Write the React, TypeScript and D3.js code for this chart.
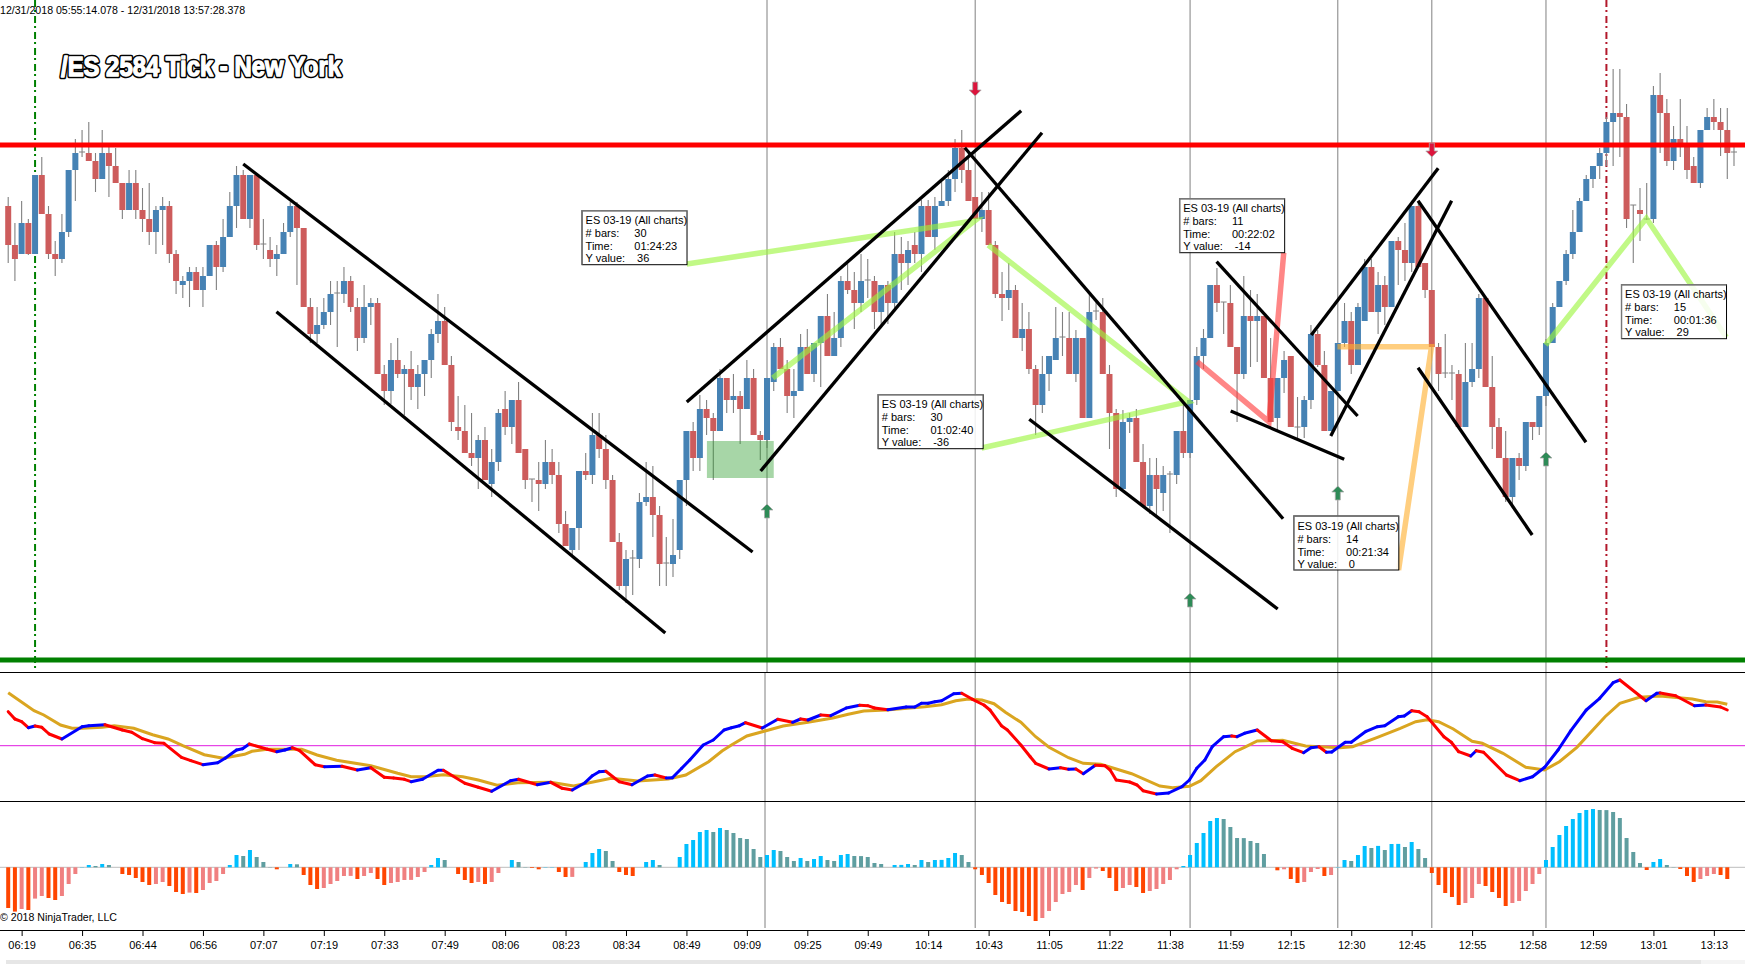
import React, { useEffect, useRef } from 'react';
import * as d3 from 'd3';

const WIDTH = 1745;
const HEIGHT = 964;

// price levels below are in chart units above the green support line
const opens = [454,415,406,437,406,485,446,406,401,428,490,508,507,499,481,507,494,477,450,477,450,441,428,450,454,406,375,379,388,370,384,415,393,423,454,485,441,485,416,410,401,406,428,454,432,353,326,335,348,367,366,379,353,322,353,357,286,269,300,286,291,273,286,300,326,339,295,233,229,207,202,220,176,198,251,233,260,211,181,180,176,198,185,136,110,132,189,185,225,211,180,118,74,102,101,158,163,145,97,96,110,180,229,202,251,242,229,282,260,264,251,282,225,220,278,313,291,264,269,313,286,317,344,304,322,379,370,357,380,379,348,375,357,406,397,415,406,454,423,454,459,481,512,490,463,441,450,415,366,362,370,322,331,291,255,286,300,323,322,286,322,242,349,348,286,247,171,238,242,198,154,185,167,186,185,229,207,260,304,322,375,358,357,313,286,344,339,344,282,242,282,304,233,233,260,326,295,229,269,317,339,295,339,393,348,375,353,419,410,397,454,397,370,313,287,287,286,233,278,291,362,273,233,202,163,202,194,238,233,264,317,353,379,406,428,459,481,494,507,538,547,543,455,450,441,441,565,547,499,521,516,494,477,530,543,538,530,508];
const closes = [415,401,437,406,485,446,406,401,428,490,507,508,499,481,507,494,477,450,477,450,441,428,450,454,406,379,379,388,370,384,415,393,423,454,485,441,485,415,416,401,406,428,454,432,353,326,335,348,366,367,379,353,322,353,357,286,269,300,286,291,273,286,300,326,339,295,238,229,207,202,220,180,198,247,233,260,207,180,181,176,198,185,136,114,132,189,185,225,211,180,118,74,101,102,158,163,145,96,97,105,180,229,202,251,242,229,282,260,264,251,282,225,220,282,313,291,264,269,313,286,317,344,304,322,379,370,357,379,380,348,375,357,406,397,410,406,454,423,454,459,481,512,490,459,441,450,415,366,362,370,322,331,291,255,286,304,322,323,286,322,242,348,349,286,247,171,238,242,198,154,185,171,185,186,229,207,260,304,322,375,357,358,313,286,344,339,344,282,238,282,300,233,233,260,326,295,229,269,317,339,295,353,393,348,375,353,419,410,397,454,393,370,313,286,287,287,233,278,291,362,273,233,202,163,202,194,238,233,264,317,353,379,406,428,459,481,494,507,538,547,543,441,455,446,441,565,547,499,521,516,490,477,530,543,538,530,507,508];
const highs = [463,437,459,441,485,503,454,419,446,490,521,530,538,507,530,516,512,477,490,490,472,477,454,463,459,410,384,393,393,393,415,419,441,468,494,490,485,485,441,423,415,437,458,458,432,362,353,362,379,379,393,384,362,375,362,362,295,317,322,295,309,295,300,331,366,353,304,264,255,247,225,233,211,251,269,260,278,211,181,198,220,211,198,149,132,189,207,247,247,225,185,127,110,110,167,198,194,154,123,141,180,229,238,265,260,247,291,282,286,269,300,291,229,282,317,322,300,291,326,331,317,344,366,348,384,396,388,406,401,384,375,379,428,423,419,428,460,460,463,478,490,521,530,507,463,468,468,419,388,397,375,357,348,295,304,304,353,348,348,330,322,366,360,362,295,251,250,247,251,216,202,202,194,189,229,255,260,313,331,375,392,358,375,313,384,370,366,344,322,282,309,304,263,264,335,330,309,269,317,357,348,357,401,401,388,384,419,423,437,454,459,397,370,317,326,295,290,317,317,366,362,304,242,229,202,207,238,238,264,321,357,379,410,450,462,485,494,512,543,591,591,556,455,472,477,574,587,561,534,561,534,503,530,552,561,552,552,517];
const lows = [397,379,406,405,406,446,401,384,397,423,459,503,499,468,481,463,477,441,450,441,428,415,406,415,397,366,362,353,370,353,384,370,388,423,432,441,432,410,401,393,384,406,423,375,353,317,317,331,335,313,357,348,309,317,335,286,255,256,282,245,260,251,264,282,317,295,229,220,207,194,171,180,163,189,225,216,207,171,158,149,171,176,127,114,105,110,180,176,202,171,118,70,57,65,92,154,123,74,74,83,101,154,189,189,225,180,229,247,247,216,251,225,200,212,269,291,247,242,269,286,278,273,304,304,313,366,331,348,362,331,335,336,350,370,375,397,388,423,410,454,454,468,477,459,441,428,415,362,339,350,322,309,286,225,247,269,300,304,286,278,242,242,340,286,211,163,171,227,198,154,146,144,149,127,176,202,202,255,291,322,348,326,313,238,281,293,298,282,238,230,267,233,222,222,251,293,229,229,269,313,286,295,339,348,326,335,353,375,379,388,393,362,313,269,282,260,233,233,273,282,273,211,202,158,156,180,189,220,225,254,317,353,375,401,428,459,472,481,494,494,503,432,397,419,440,437,507,494,490,503,481,477,472,530,530,504,481,494];

const fastBars = [0,1,2,3,4,5,6.1,8,11,12,14.4,17,18.4,20,21.8,23.2,25.8,27.2,29,31.2,32.3,34,34.9,35.9,38.6,40,41.2,42.3,43.4,45.7,47.1,49.7,52,54,56,57.4,59,60,61.7,64,64.8,68,70,72,74.8,76,78.8,80.8,82.5,84,85.9,87,88,89,91,92.9,95.2,96.3,98,98.9,100.3,101.5,103.5,105,106.6,107.7,108.9,109.8,112.3,114.6,116.8,118,119.1,121,122.5,124.8,126.8,128,129,131,133.7,135,136,137,138,139,140.8,142,143.6,145.3,146.2,147.9,148.8,150.8,152.2,153,155,156.7,157.9,159,160.1,161.9,163.3,164.1,165,167,168.1,169,171,172.8,174.8,175.9,177,178.2,179.3,181,182.2,183,184.1,186,188.1,189.8,191.2,192.9,194,195.2,196.3,197.1,199.1,200,202.2,203.9,205,207,207.9,209,210.1,211.3,213.8,214.9,216,217.8,218.6,219.7,223.1,225.1,227,228.8,230.8,232.7,235,237,239,240,243.9,245.5,246,248.3,251.1,252.8,255,256];
const fastValues = [34,26.7,24,18,19.7,18.4,11.7,6.7,19,20,21,15.7,13.4,7,3,2.4,-11.6,-15,-19,-17,-12.6,-4.3,-3,1.7,-3.6,-6,-4.3,-2,-5,-19,-21,-20.6,-24.3,-22,-31.6,-32.3,-33.6,-36,-33.6,-24.6,-24.6,-37.6,-41.6,-45.6,-35,-33.6,-39,-36.6,-42.6,-44.3,-37,-30,-26,-25.6,-36,-39,-30.3,-29.3,-32.3,-32,-22.6,-14.3,0.7,5.7,15.7,18,20,23,17.7,26.4,23.4,26.7,25.7,30.7,30,37.7,40.4,40,37.7,36,38.7,38.7,42.4,42.4,44,45,52,52.4,46.4,40.7,35.7,20,15.7,0.7,-11,-17.6,-23.3,-22,-23.6,-23.3,-28,-19.6,-20,-24.3,-34.3,-36.3,-39.3,-45,-48.3,-47.3,-41,-34.3,-22.6,-14.3,-1,9,9.7,9,12.4,15.7,5,4,-2.6,-7,-2,-1,-6.6,-6.3,3.4,3.4,14.4,19,20,29,29.7,35,34,29,9,3.4,-6,-10.3,-5,-6.6,-29.3,-35,-31,-21.6,-4.3,15,35.7,47.4,63,65.7,45,52.4,52.7,50,40,40.7,38.7,35.7];

const slowBars = [0,3.85,5.3,7.8,9.5,11,14,15.8,18.7,21.5,23.8,26,29.2,32,35.2,36.3,38.6,43.7,46,48.9,54,58,60,62,64.8,67.7,70,72.8,75.9,80.8,84.2,88,89.8,93.8,98.3,100.9,104.3,106.3,107.7,110,112.3,115.4,119.1,122.8,125.1,127.4,130.8,136.5,139,141.1,143,145,146.8,148.5,150.8,153,155,157.9,160.1,162.7,165,167.3,171.5,173.4,175.9,177.6,179.9,182.7,184.1,186,189.8,193.2,198.3,200.2,203.9,207.3,209.6,211.3,213,215.2,218,219.5,222.6,226,228.8,231,233.6,237.8,240,242.9,246,250.8,252.8,254.5,256];
const slowValues = [53,35,30.7,20.7,17.4,17.4,18.4,20,17.4,11,6.7,0,-9,-12.6,-8.6,-5.6,-3.6,-3.6,-9.3,-14.6,-20,-27.6,-31,-31,-29,-31,-34.3,-39.6,-37,-36.6,-40.3,-35,-32.6,-35.3,-33.3,-29.3,-16,-5.3,0.7,9.7,14,19.7,23.4,27.7,31.4,34.7,35.7,39,41,45,46.7,45.7,42,33.4,23.4,9,-1.6,-12,-17.6,-18.6,-23.3,-28,-40.3,-42,-40.6,-35,-21,-6,-1.6,4.7,5.4,-0.3,-2,-1,8.4,17.4,24,26,24,16.7,4.4,2.4,-7.6,-21.6,-24.3,-16,-1.6,29,42.4,48.4,49.7,46.7,44,43.7,41.4];

const histValues = [-40.7,-44.3,-41.7,-42.7,-31.3,-28.7,-30.7,-32.7,-28.7,-16.7,-6.7,0.3,2.3,1.3,3.3,2.3,0,-6.7,-7.7,-10.7,-14.7,-17.7,-16.7,-14.7,-18.7,-24.7,-26.7,-25.3,-25.7,-22.7,-15.7,-13.7,-6.7,2.3,12.3,11.3,17.3,10.3,5.3,0.3,-2,0,3.3,3,-7.7,-17.7,-21.7,-20.7,-16.7,-13.7,-8.7,-8.6,-11.7,-8.7,-5.7,-11.7,-17.7,-15.7,-14.7,-12.7,-12.6,-9.7,-4.7,2.3,9.3,7.3,0,-6.7,-12.7,-15.7,-14.7,-16.7,-14.7,-5.7,0,7.3,5.3,0.3,-0.7,-2,0.3,0.3,-4.7,-9.7,-9.6,0,5.3,14.3,18.3,16.3,6.3,-4.7,-7.7,-8.7,0,5.3,7.3,2.3,0,0,10.3,23.3,27.3,35.3,37.3,35.3,39.3,37.3,34.3,29.3,28.3,18.3,10.3,12.3,17.3,16.3,10.3,6.3,9.3,6.3,8.3,11.3,7.3,6.3,12.3,13.3,11.3,11.2,10.3,4.3,3.3,0,2.3,2.4,3.3,2.3,7.3,5.3,7.3,7.4,9.3,14.3,12.3,5.3,-2,-7.7,-15.7,-27.7,-34.7,-36.7,-43.7,-44.7,-48.7,-53.7,-50.7,-43.7,-34.7,-26.7,-24.7,-17.7,-22.7,-10.7,-1.3,-3.7,-10.7,-23.7,-20.7,-17.7,-19.7,-25.7,-23.7,-21.7,-16.7,-12.7,-2,1.3,12.3,24.3,34.3,46.3,49.3,48.3,40.3,29.3,29.2,26.3,24.3,13.3,0,-3,-2,-11.7,-15.7,-14.7,-4.7,-1.7,-8.7,-7.7,0.3,7.3,6.3,12.3,21.3,19.3,21.4,17.3,23.3,23.4,20.3,25.3,18.3,9.3,-5.7,-17.7,-25.7,-29.7,-37.7,-35.7,-30.7,-16.7,-18.7,-24.7,-30.7,-38.7,-35.7,-33.7,-23.7,-16.7,-6.7,7.3,20.3,32.3,41.3,48.3,54.3,57.3,58.3,57.3,57.2,55.3,49.3,29.3,15.3,4.3,-2.7,5.3,8.3,2.3,0.3,-1.7,-8.7,-14.7,-11.7,-8.7,-6.7,-7.7,-11.7];

const tickLabels = ['06:19','06:35','06:44','06:56','07:07','07:19','07:33','07:49','08:06','08:23','08:34','08:49','09:09','09:25','09:49','10:14','10:43','11:05','11:22','11:38','11:59','12:15','12:30','12:45','12:55','12:58','12:59','13:01','13:13'];

const verticalBars = [113, 144, 176, 198, 212, 229];
// the first signal line sits a little to the left in the lower panels
const panelVerticalBars = [112.7, 144, 176, 198, 212, 229];
const sessionStartBar = 4;
const sessionEndBar = 238;
const resistanceLevel = 515;
const supportLevel = 0;
const zoneBars = [104.05, 114];
const zoneLevels = [219, 182];

const upArrows: [number, number][] = [[113, 149], [176, 60], [198, 167], [229, 201]];
const downArrows: [number, number][] = [[144, 571], [212, 510]];

// [bar, level, bar, level]
const trendLines = [
  [35, 496, 110.85, 108],
  [39.95, 348.3, 97.85, 27],
  [101.05, 258, 150.85, 549.3],
  [112.05, 189, 153.95, 527.3],
  [142.45, 512.3, 189.85, 141.3],
  [152.05, 240.7, 189.05, 51],
  [179.95, 398.3, 200.95, 244],
  [182.05, 249, 198.95, 200.7],
  [194.05, 325, 212.95, 491.7],
  [196.95, 224, 214.95, 459.3],
  [209.95, 459.3, 234.95, 217.7],
  [209.95, 292.3, 226.95, 125],
];

const calloutBars = [85.45, 129.55, 174.45, 191.45, 240.25];
const calloutLevels = [449.3, 265.3, 461.3, 144, 375.3];
const calloutCounts = ['30', '30', '11', '14', '15'];
const calloutTimes = ['01:24:23', '01:02:40', '00:22:02', '00:21:34', '00:01:36'];
const calloutValues = ['36', '-36', '-14', '0', '29'];
const measurePaths: [number, number][][] = [
  [[101.05, 396], [143.95, 439.3], [113.85, 282]],
  [[144.95, 212], [175.75, 258.3], [145.95, 415]],
  [[189.95, 407.3], [187.75, 238.3], [177.05, 298.3]],
  [[207.05, 90], [211.95, 313.3], [197.95, 313.3]],
  [[255.85, 322.7], [243.95, 441.7], [228.95, 315]],
];
const measureColors = ['#9bf53c', '#9bf53c', '#ff3c3c', '#ffb030', '#9bf53c'];

const FONT = "'Liberation Sans', Arial, sans-serif";

const App: React.FC = () => {
  const svgRef = useRef<SVGSVGElement>(null);

  useEffect(() => {
    if (!svgRef.current) return;
    const svg = d3.select(svgRef.current);
    svg.selectAll('*').remove();

    const x = d3.scaleLinear().domain([0, 257]).range([8.2, 1734]);
    const y = d3.scaleLinear().domain([0, 660]).range([660, 0]);
    const yOsc = d3.scaleLinear().domain([-50, 50]).range([795.7, 695.7]);
    const yHist = d3.scaleLinear().domain([-50, 50]).range([917.3, 817.3]);

    svg.append('rect').attr('width', WIDTH).attr('height', HEIGHT).attr('fill', '#fff');

    // scrollbar strip along the bottom
    svg.append('rect').attr('x', 6).attr('y', 960).attr('width', WIDTH - 6).attr('height', 4).attr('fill', '#e6e6e6');
    svg.append('rect').attr('x', 1701).attr('y', 960).attr('width', 44).attr('height', 4).attr('fill', '#f4f4f4');

    // --- Session and signal verticals ---
    const sessions = [
      { bar: sessionStartBar, color: '#008000' },
      { bar: sessionEndBar, color: '#b2182b' },
    ];
    svg.selectAll('.session').data(sessions).join('line')
      .attr('x1', d => x(d.bar)).attr('x2', d => x(d.bar))
      .attr('y1', 0).attr('y2', 672)
      .attr('stroke', d => d.color)
      .attr('stroke-width', 2)
      .attr('stroke-dasharray', '7 3 2 4');

    svg.selectAll('.signal').data(verticalBars).join('line')
      .attr('x1', d => x(d)).attr('x2', d => x(d))
      .attr('y1', 0).attr('y2', 672)
      .attr('stroke', '#808080')
      .attr('stroke-width', 1);
    svg.selectAll('.signalPanel').data(panelVerticalBars).join('line')
      .attr('x1', d => x(d)).attr('x2', d => x(d))
      .attr('y1', 672).attr('y2', 928)
      .attr('stroke', '#808080')
      .attr('stroke-width', 1);

    // --- Candles ---
    const bars = opens.map((o, i) => ({ i, o, c: closes[i], h: highs[i], l: lows[i] }));
    const candles = svg.append('g');
    candles.selectAll('line.wick').data(bars).join('line')
      .attr('class', 'wick')
      .attr('x1', d => x(d.i)).attr('x2', d => x(d.i))
      .attr('y1', d => y(d.h)).attr('y2', d => y(d.l))
      .attr('stroke', '#808080').attr('stroke-width', 1.1);
    candles.selectAll('rect').data(bars.filter(d => d.o !== d.c)).join('rect')
      .attr('x', d => x(d.i) - 3)
      .attr('width', 6)
      .attr('y', d => y(Math.max(d.o, d.c)))
      .attr('height', d => Math.abs(y(d.o) - y(d.c)))
      .attr('fill', d => (d.c > d.o ? '#4682b4' : '#cd5c5c'));
    candles.selectAll('line.doji').data(bars.filter(d => d.o === d.c)).join('line')
      .attr('class', 'doji')
      .attr('x1', d => x(d.i) - 3).attr('x2', d => x(d.i) + 3)
      .attr('y1', d => y(d.o)).attr('y2', d => y(d.o))
      .attr('stroke', '#808080').attr('stroke-width', 1);

    // --- Zone, levels ---
    svg.append('rect')
      .attr('x', x(zoneBars[0])).attr('width', x(zoneBars[1]) - x(zoneBars[0]))
      .attr('y', y(zoneLevels[0])).attr('height', y(zoneLevels[1]) - y(zoneLevels[0]))
      .attr('fill', '#2e9e2e').attr('opacity', 0.42);

    svg.append('line').attr('x1', 0).attr('x2', WIDTH)
      .attr('y1', y(resistanceLevel)).attr('y2', y(resistanceLevel))
      .attr('stroke', '#ff0000').attr('stroke-width', 5);
    svg.append('line').attr('x1', 0).attr('x2', WIDTH)
      .attr('y1', y(supportLevel)).attr('y2', y(supportLevel))
      .attr('stroke', '#008000').attr('stroke-width', 5);

    // --- Measure tool lines, callouts, trend lines ---
    const measureLine = d3.line<[number, number]>().x(d => x(d[0])).y(d => y(d[1]));
    svg.selectAll('path.measure').data(measurePaths).join('path')
      .attr('class', 'measure')
      .attr('d', d => measureLine(d))
      .attr('fill', 'none')
      .attr('stroke', (_, i) => measureColors[i])
      .attr('stroke-opacity', 0.62)
      .attr('stroke-width', 5.5);

    svg.selectAll('line.trend').data(trendLines).join('line')
      .attr('class', 'trend')
      .attr('x1', d => x(d[0])).attr('y1', d => y(d[1]))
      .attr('x2', d => x(d[2])).attr('y2', d => y(d[3]))
      .attr('stroke', '#000').attr('stroke-width', 3.3);

    calloutBars.forEach((bar, i) => {
      const bx = x(bar);
      const by = y(calloutLevels[i]);
      const g = svg.append('g').attr('transform', `translate(${bx},${by})`)
        .attr('font-family', FONT).attr('font-size', 11).attr('fill', '#000');
      g.append('rect').attr('width', 105).attr('height', 54)
        .attr('fill', '#fff').attr('fill-opacity', 0.86)
        .attr('stroke', '#000').attr('stroke-width', 1);
      g.append('path').attr('d', 'M0,54V0H105').attr('fill', 'none')
        .attr('stroke', '#777').attr('stroke-width', 1.4);
      g.append('text').attr('x', 3.6).attr('y', 13.5).text('ES 03-19 (All charts)');
      g.append('text').attr('x', 3.6).attr('y', 26.5).text('# bars:');
      g.append('text').attr('x', 52.3).attr('y', 26.5).text(calloutCounts[i]);
      g.append('text').attr('x', 3.6).attr('y', 39.5).text('Time:');
      g.append('text').attr('x', 52.3).attr('y', 39.5).text(calloutTimes[i]);
      g.append('text').attr('x', 3.6).attr('y', 51.5).text('Y value:');
      g.append('text').attr('x', 55).attr('y', 51.5).text(calloutValues[i]);
    });

    // --- Arrows ---
    const arrowPath = 'M0,-7L6,-1H2.5V7H-2.5V-1H-6Z';
    svg.selectAll('path.up').data(upArrows).join('path')
      .attr('class', 'up')
      .attr('d', arrowPath)
      .attr('transform', d => `translate(${x(d[0])},${y(d[1])})`)
      .attr('fill', '#2e8b57').attr('stroke', '#a9a9a9').attr('stroke-width', 0.8);
    svg.selectAll('path.down').data(downArrows).join('path')
      .attr('class', 'down')
      .attr('d', arrowPath)
      .attr('transform', d => `translate(${x(d[0])},${y(d[1])}) rotate(180)`)
      .attr('fill', '#dc143c').attr('stroke', '#a9a9a9').attr('stroke-width', 0.8);

    // --- Panels ---
    [672.5, 801.5, 930.5].forEach(py => {
      svg.append('line').attr('x1', 0).attr('x2', WIDTH).attr('y1', py).attr('y2', py)
        .attr('stroke', '#000').attr('stroke-width', 1);
    });
    svg.append('line').attr('x1', 0).attr('x2', WIDTH).attr('y1', yOsc(0)).attr('y2', yOsc(0))
      .attr('stroke', '#e01be0').attr('stroke-width', 1);

    const slowLine = d3.line<number>().x((_, i) => x(slowBars[i])).y(d => yOsc(d));
    svg.append('path').attr('d', slowLine(slowValues))
      .attr('fill', 'none').attr('stroke', '#daa520').attr('stroke-width', 3);

    // fast line is blue while rising, red while falling
    const fastSegments = fastValues.slice(1).map((v, i) => ({
      x1: fastBars[i], x2: fastBars[i + 1], v1: fastValues[i], v2: v,
    }));
    svg.selectAll('line.fast').data(fastSegments).join('line')
      .attr('class', 'fast')
      .attr('x1', d => x(d.x1)).attr('x2', d => x(d.x2))
      .attr('y1', d => yOsc(d.v1)).attr('y2', d => yOsc(d.v2))
      .attr('stroke', d => (d.v2 >= d.v1 ? '#0000ff' : '#ff0000'))
      .attr('stroke-linecap', 'round')
      .attr('stroke-width', 3);

    svg.append('line').attr('x1', 0).attr('x2', WIDTH).attr('y1', yHist(0)).attr('y2', yHist(0))
      .attr('stroke', '#bdbdbd').attr('stroke-width', 1);

    const histColor = (v: number, i: number) => {
      const prev = i > 0 ? histValues[i - 1] : 0;
      if (v >= 0) return v >= prev ? '#00bfff' : '#5f9ea0';
      return v < prev ? '#ff4500' : '#f08080';
    };
    svg.selectAll('rect.hist').data(histValues).join('rect')
      .attr('class', 'hist')
      .attr('x', (_, i) => x(i) - 2)
      .attr('width', 4)
      .attr('y', d => yHist(Math.max(d, 0)))
      .attr('height', d => Math.abs(yHist(d) - yHist(0)))
      .attr('fill', histColor);

    // --- Time axis ---
    const axis = d3.axisBottom(x)
      .tickValues(tickLabels.map((_, i) => 2 + i * 9))
      .tickFormat((_, i) => tickLabels[i])
      .tickSize(5.5)
      .tickPadding(5);
    const axisG = svg.append('g').attr('transform', 'translate(0,930.5)').call(axis);
    axisG.select('.domain').remove();
    axisG.selectAll('line').attr('stroke', '#000');
    axisG.selectAll('text').attr('font-family', FONT).attr('font-size', 11).attr('fill', '#000');

    // --- Texts ---
    svg.append('text').attr('x', 0).attr('y', 13.5)
      .attr('font-family', FONT).attr('font-size', 10.6).attr('fill', '#000')
      .text('12/31/2018 05:55:14.078 - 12/31/2018 13:57:28.378');
    svg.append('text').attr('x', 0).attr('y', 921)
      .attr('font-family', FONT).attr('font-size', 10.6).attr('fill', '#000')
      .text('\u00a9 2018 NinjaTrader, LLC');

    // title: heavy black halo under thickened white letters
    const titleLayers = [
      { stroke: '#000', width: 4.6 },
      { stroke: '#fff', width: 1.3 },
    ];
    svg.selectAll('text.title').data(titleLayers).join('text')
      .attr('class', 'title')
      .attr('x', 61).attr('y', 75.5)
      .attr('font-family', FONT).attr('font-size', 27).attr('font-weight', 700)
      .attr('textLength', 280).attr('lengthAdjust', 'spacingAndGlyphs')
      .attr('fill', '#fff')
      .attr('stroke', d => d.stroke).attr('stroke-width', d => d.width)
      .attr('stroke-linejoin', 'round')
      .text('/ES 2584 Tick - New York');
  }, []);

  return (
    <svg
      ref={svgRef}
      width={WIDTH}
      height={HEIGHT}
      viewBox={`0 0 ${WIDTH} ${HEIGHT}`}
      style={{ position: 'absolute', left: 0, top: 0, display: 'block' }}
    />
  );
};

export default App;
